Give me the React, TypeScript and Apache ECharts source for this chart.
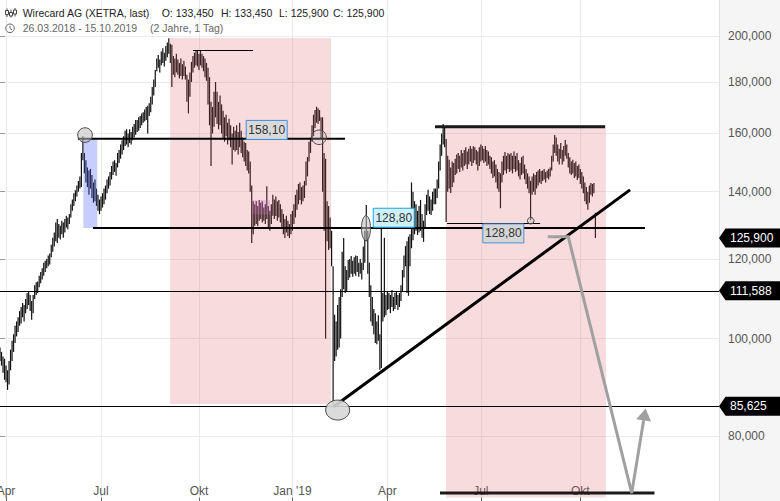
import React, { useEffect, useRef } from 'react';
import * as echarts from 'echarts';

const FONT = '"Liberation Sans", Arial, Helvetica, sans-serif';

// ---- categories (trading days) ----
const START_DATE = '2018-03-26';
const AXIS_DAYS = 478;
const HOLIDAYS = [
  '2018-03-30', '2018-04-02', '2018-05-01', '2018-12-24', '2018-12-25', '2018-12-26', '2018-12-31',
  '2019-01-01', '2019-04-19', '2019-04-22', '2019-05-01', '2019-12-24', '2019-12-25', '2019-12-26',
  '2019-12-31', '2020-01-01',
];
const MONTH_TICKS: [string, string][] = [
  ['2018-04-03', 'Apr'], ['2018-07-02', 'Jul'], ['2018-10-01', 'Okt'], ['2019-01-02', "Jan '19"],
  ['2019-04-01', 'Apr'], ['2019-07-01', 'Jul'], ['2019-10-01', 'Okt'],
];
const Y_TICKS = [80, 100, 120, 140, 160, 180, 200];
const Y_MIN = 69.49;
const Y_MAX = 217.2;

// ---- daily lows / highs (EUR), 26.03.2018 - 15.10.2019 ----
const LOWS = [
  95.0, 94.0, 92.5, 91.0, 90.5, 88.9, 90.0, 93.0, 95.0, 97.0,
  99.0, 100.5, 101.5, 103.0, 103.5, 105.0, 104.0, 106.0, 107.0, 108.0,
  106.5, 104.4, 106.0, 109.5, 110.5, 111.0, 112.5, 113.5, 114.5, 115.5,
  116.5, 117.5, 118.0, 118.5, 120.5, 122.0, 123.5, 125.0, 124.5, 126.0,
  125.5, 127.0, 126.0, 127.5, 129.0, 128.5, 130.0, 132.0, 134.0, 135.5,
  137.0, 138.5, 140.0, 141.0, 141.5, 150.5, 146.0, 143.0, 141.5, 139.0,
  141.0, 138.0, 136.5, 137.0, 135.5, 134.0, 133.0, 134.0, 135.0, 136.0,
  137.5, 139.5, 141.0, 142.0, 144.0, 145.5, 146.5, 145.2, 148.0, 149.5,
  151.0, 152.5, 154.0, 155.5, 156.0, 155.0, 156.5, 156.0, 157.5, 158.5,
  159.5, 160.5, 161.0, 162.0, 163.0, 164.0, 164.5, 165.0, 160.0, 166.5,
  168.0, 171.0, 174.5, 178.0, 184.5, 186.0, 184.0, 187.0, 188.0, 186.5,
  189.0, 190.5, 192.0, 188.0, 178.0, 183.0, 182.0, 184.0, 183.0, 181.5,
  182.5, 181.0, 182.5, 181.0, 172.0, 167.5, 174.0, 180.0, 184.0, 186.0,
  187.0, 186.5, 185.0, 187.0, 186.0, 184.5, 182.0, 180.5, 171.0, 163.0,
  148.5, 160.0, 162.5, 166.0, 163.5, 161.5, 163.0, 160.0, 158.0, 157.0,
  159.0, 156.0, 157.5, 155.0, 149.0, 154.0, 153.5, 154.0, 152.5, 155.0,
  153.0, 151.5, 150.0, 148.5, 147.0, 146.0, 140.0, 124.5, 127.0, 129.5,
  130.0, 129.4, 131.0, 131.5, 130.5, 131.0, 130.0, 131.5, 129.0, 128.0,
  130.0, 132.5, 131.5, 132.4, 131.0, 132.0, 130.5, 129.0, 127.0, 125.9,
  127.5, 126.5, 125.9, 127.0, 128.0, 130.0, 132.0, 134.3, 136.0, 137.4,
  136.0, 137.0, 138.0, 142.0, 145.0, 150.0, 153.0, 157.0, 159.0, 162.0,
  164.0, 163.5, 164.6, 158.0, 140.0, 128.0, 100.0, 125.0, 122.5, 123.0,
  118.0, 86.0, 95.0, 96.0, 97.5, 98.0, 100.0, 110.0, 112.0, 111.0,
  111.5, 114.4, 115.0, 116.0, 115.2, 116.0, 115.5, 116.5, 115.2, 116.0,
  114.5, 117.0, 119.0, 125.0, 116.0, 110.0, 104.0, 103.0, 101.0, 99.0,
  98.7, 99.5, 93.1, 93.5, 104.0, 105.0, 105.5, 106.8, 107.0, 106.0,
  107.5, 106.5, 107.0, 108.0, 106.8, 107.5, 109.0, 111.5, 115.0, 118.0,
  111.0, 110.3, 118.0, 123.0, 125.3, 127.0, 128.0, 126.8, 127.5, 128.0,
  126.0, 124.8, 129.0, 132.7, 134.0, 133.0, 132.7, 134.0, 136.0, 136.0,
  138.0, 141.0, 147.0, 152.0, 156.0, 155.0, 130.6, 140.0, 141.0, 139.6,
  141.5, 143.0, 145.5, 146.0, 147.5, 146.5, 148.0, 147.0, 148.5, 149.0,
  147.5, 149.0, 150.0, 148.5, 149.5, 150.5, 149.0, 147.0, 148.5, 150.0,
  150.5, 149.5, 150.0, 148.5, 149.0, 147.5, 146.0, 144.5, 145.0, 143.0,
  141.0, 140.0, 134.8, 143.0, 145.5, 147.0, 146.0, 147.5, 146.5, 147.0,
  146.0, 147.5, 146.5, 147.0, 145.0, 144.0, 145.5, 146.0, 144.0, 142.5,
  141.0, 139.5, 131.2, 139.0, 140.0, 139.0, 141.0, 142.0, 143.0, 142.5,
  143.5, 144.0, 143.0, 144.5, 144.0, 145.0, 147.0, 150.0, 153.0, 152.0,
  150.0, 149.0, 151.0, 149.0, 150.0, 152.0, 151.0, 148.0, 146.0, 145.5,
  146.0, 144.5, 145.0, 143.8, 144.5, 142.5, 141.0, 139.5, 137.0, 136.0,
  134.3, 136.5, 139.0, 138.5, 139.5, 125.9,
];
const HIGHS = [
  98.0, 97.0, 96.0, 95.5, 94.0, 93.0, 95.0, 97.5, 99.5, 101.0,
  103.0, 104.0, 105.0, 106.5, 107.5, 108.5, 108.0, 109.5, 111.0, 111.5,
  110.5, 109.0, 110.5, 113.0, 113.8, 114.0, 115.5, 116.5, 117.5, 119.0,
  119.5, 120.0, 121.0, 121.5, 124.0, 126.0, 127.5, 130.5, 131.5, 130.0,
  129.5, 131.0, 130.5, 131.5, 132.5, 132.0, 133.0, 136.0, 137.5, 139.5,
  140.5, 142.0, 143.5, 145.0, 153.0, 159.0, 153.0, 150.5, 148.0, 147.0,
  147.5, 145.5, 143.0, 144.0, 141.0, 139.0, 137.5, 138.5, 139.5, 141.0,
  142.0, 144.0, 145.0, 146.5, 148.5, 150.0, 150.5, 149.5, 153.0, 154.0,
  156.0, 157.5, 159.0, 161.0, 161.5, 160.0, 161.5, 160.5, 162.5, 163.5,
  165.0, 165.0, 166.0, 166.5, 167.5, 168.0, 169.0, 170.0, 170.5, 171.5,
  174.0, 178.0, 181.0, 185.0, 190.0, 191.5, 189.5, 193.0, 194.5, 192.5,
  195.5, 197.0, 199.0, 196.5, 196.0, 191.0, 190.0, 192.0, 189.5, 188.0,
  190.0, 187.5, 189.0, 186.5, 183.0, 181.0, 184.0, 188.5, 191.0, 192.5,
  193.5, 193.7, 192.0, 193.5, 192.0, 191.0, 190.0, 188.0, 186.0, 182.0,
  172.0, 170.0, 176.0, 180.0, 176.0, 172.0, 174.5, 171.0, 168.5, 166.0,
  167.0, 164.0, 165.5, 163.0, 160.0, 162.5, 161.0, 163.0, 160.5, 164.0,
  161.0, 158.5, 157.0, 156.5, 154.0, 153.5, 150.0, 142.0, 137.0, 136.0,
  137.0, 135.5, 137.4, 136.5, 137.0, 135.0, 136.0, 141.8, 135.5, 134.0,
  136.0, 139.0, 137.5, 138.5, 137.0, 137.4, 136.0, 134.5, 133.0, 131.5,
  132.5, 131.0, 130.0, 133.0, 134.0, 136.0, 139.0, 140.6, 142.5, 143.0,
  141.5, 142.0, 143.5, 150.0, 151.6, 157.0, 158.5, 163.0, 167.0, 168.8,
  170.1, 169.5, 168.8, 166.0, 166.0, 153.0, 151.0, 137.0, 135.5, 132.0,
  128.0, 118.0, 105.6, 104.0, 108.0, 110.0, 112.0, 122.0, 125.9, 118.0,
  117.0, 119.7, 120.0, 120.8, 119.5, 120.5, 121.0, 120.8, 119.0, 120.0,
  119.0, 123.5, 128.0, 135.8, 128.0, 119.0, 113.0, 110.0, 107.0, 106.0,
  104.0, 105.5, 101.0, 130.4, 111.0, 126.0, 110.5, 111.5, 111.0, 110.5,
  111.8, 110.0, 111.0, 111.5, 110.5, 111.0, 113.0, 117.0, 121.0, 123.6,
  125.0, 126.3, 127.0, 143.0, 140.0, 137.0, 136.0, 134.0, 135.5, 137.4,
  133.0, 131.0, 136.0, 139.0, 140.6, 138.5, 137.5, 140.0, 141.0, 141.0,
  144.0, 150.0, 156.0, 160.0, 163.5, 162.5, 158.0, 152.0, 150.6, 148.0,
  150.0, 149.5, 151.0, 152.5, 153.0, 152.0, 154.0, 153.0, 154.0, 155.0,
  153.5, 154.5, 155.5, 154.5, 155.4, 155.0, 154.0, 153.5, 155.0, 156.0,
  155.5, 154.5, 155.5, 154.0, 153.5, 152.0, 151.5, 150.0, 150.5, 149.0,
  147.5, 146.5, 146.0, 150.0, 152.0, 153.3, 152.0, 153.0, 152.5, 153.0,
  152.0, 153.5, 152.0, 153.0, 150.5, 149.5, 151.5, 152.0, 149.0, 147.5,
  146.0, 145.0, 143.5, 145.0, 146.0, 145.5, 146.5, 147.0, 147.5, 146.8,
  147.0, 147.5, 146.5, 147.0, 147.5, 148.0, 152.0, 156.0, 159.4, 158.5,
  156.0, 154.5, 156.5, 154.0, 155.5, 157.6, 156.0, 153.0, 151.5, 150.0,
  150.6, 149.5, 150.0, 148.5, 149.0, 147.5, 146.5, 145.0, 143.0, 141.5,
  140.0, 142.0, 142.8, 142.5, 142.8, 133.45,
];
const LAST_BAR = { open: 133.45, high: 133.45, low: 125.9, close: 125.9 };
const PRICE_TAGS = [125.9, 111.588, 85.625];

// ---- drawn annotations, in data coordinates [day index, price] ----
const PINK_ZONES = [
  { x0: 112.8, x1: 219.6, lo: 86.1, hi: 199.1 },
  { x0: 295.9, x1: 402.0, lo: Y_MIN, hi: 163.1 },
];
const BLUE_ZONE = { x0: 55.3, x1: 64.5, lo: 128.8, hi: 158.1 };
const PURPLE_SPOT = { x0: 167.0, x1: 179.2, lo: 132.9, hi: 137.4 };
const LEVEL_LINES = [
  { price: 158.1, x0: 51.7, x1: 228.9, kind: 'thick' },
  { price: 128.8, x0: 61.7, x1: 427.9, kind: 'thick' },
  { price: 162.5, x0: 288.6, x1: 401.4, kind: 'heavy' },
  { price: 193.7, x0: 128.0, x1: 167.9, kind: 'thin' },
  { price: 130.4, x0: 296.6, x1: 358.3, kind: 'thin' },
  { price: 111.588, x0: 0, x1: 477, kind: 'thin' },
  { price: 85.625, x0: 0, x1: 477, kind: 'thin' },
  { price: 70.2, x0: 291.9, x1: 434.2, kind: 'heavy' },
];
const TREND_LINE = [[221.1, 85.5], [418.0, 140.6]];
const PROJECTION = [[363.4, 126.3], [377.0, 126.3], [419.1, 70.2], [428.3, 85.2]];
const CIRCLES = [
  { at: [56.4, 159.4], rx: 7.3, ry: 7.3, fill: 'rgba(190,190,190,0.55)' },
  { at: [211.6, 158.6], rx: 7.3, ry: 7.3, fill: 'rgba(190,190,190,0.25)' },
  { at: [242.8, 128.8], rx: 4.5, ry: 12.5, fill: 'rgba(190,190,190,0.55)' },
  { at: [224.0, 84.9], rx: 12, ry: 10, fill: 'rgba(215,215,215,0.9)' },
  { at: [352.1, 131.0], rx: 3.3, ry: 3.3, fill: 'rgba(190,190,190,0.4)' },
];
const VALUE_BOXES = [
  { text: '158,10', at: [163.0, 158.0], anchor: 'bottom', fill: '#d9d9d9', stroke: '#3d8ee0' },
  { text: '128,80', at: [247.3, 129.2], anchor: 'bottom', fill: '#cdf0fb', stroke: '#1ea3e4' },
  { text: '128,80', at: [320.0, 130.2], anchor: 'top', fill: '#d6d6d6', stroke: '#4d93d8' },
];

function tradingDays(start: string, count: number, holidays: string[]) {
  const out: string[] = [];
  const d = new Date(start + 'T00:00:00Z');
  while (out.length < count) {
    const wd = d.getUTCDay();
    const s = d.toISOString().slice(0, 10);
    if (wd !== 0 && wd !== 6 && holidays.indexOf(s) < 0) out.push(s);
    d.setUTCDate(d.getUTCDate() + 1);
  }
  return out;
}

const fmt3 = (v: number) => v.toFixed(3).replace('.', ',');

export default function App() {
  const ref = useRef<HTMLDivElement>(null);

  useEffect(() => {
    document.body.style.margin = '0';
    const days = tradingDays(START_DATE, AXIS_DAYS, HOLIDAYS);
    const tickIdx = MONTH_TICKS.map(([d]) => days.indexOf(d));
    const tickLabel: Record<number, string> = {};
    MONTH_TICKS.forEach(([d, l]) => { tickLabel[days.indexOf(d)] = l; });

    const chart = echarts.init(ref.current as HTMLDivElement, null, { renderer: 'svg' });
    const data = LOWS.map((lo, i) => [i, lo, HIGHS[i]]);

    chart.setOption({
      animation: false,
      grid: { left: 0, right: 61, top: 0, bottom: 3.5, containLabel: false, outerBoundsMode: 'none' },
      xAxis: {
        type: 'value', min: 0, max: AXIS_DAYS - 1,
        axisLine: { show: false },
        axisTick: { show: true, customValues: tickIdx, length: 4, lineStyle: { color: '#666' } },
        axisLabel: {
          customValues: tickIdx, inside: true, margin: 1, color: '#555', fontSize: 12, fontFamily: FONT,
          formatter: (v: number) => tickLabel[Math.round(v)] || '',
        },
        splitLine: { show: true, lineStyle: { color: '#ebebeb', width: 1 } },
      },
      yAxis: {
        type: 'log', position: 'right', min: Y_MIN, max: Y_MAX,
        axisLine: { show: false },
        axisTick: { show: true, customValues: Y_TICKS, length: 5, lineStyle: { color: '#999' } },
        axisLabel: {
          customValues: Y_TICKS, margin: 9, color: '#555', fontSize: 12, fontFamily: FONT,
          formatter: (v: number) => fmt3(v),
        },
        splitLine: { show: true, lineStyle: { color: '#ebebeb', width: 1 } },
      },
      series: [{
        type: 'custom',
        data,
        encode: { x: 0, y: [1, 2] },
        z: 2,
        renderItem: (params: any, api: any) => {
          const x = api.value(0);
          const p1 = api.coord([x, api.value(1)]);
          const p2 = api.coord([x, api.value(2)]);
          return {
            type: 'line',
            shape: { x1: p1[0], y1: p1[1], x2: p2[0], y2: p2[1] },
            style: { stroke: '#111', lineWidth: 1.2 },
          };
        },
      }],
    });

    const P = (x: number, y: number) => chart.convertToPixel({ gridIndex: 0 }, [x, y]) as number[];
    const PY = (y: number) => chart.convertToPixel({ yAxisIndex: 0 }, y) as number;
    const g: any[] = [];

    // right axis panel
    g.push({ type: 'rect', z: -10, shape: { x: 719, y: 0, width: 61, height: 501 }, style: { fill: '#f5f5f5' } });
    g.push({ type: 'line', z: -9, shape: { x1: 719.5, y1: 0, x2: 719.5, y2: 501 }, style: { stroke: '#e0e0e0', lineWidth: 1 } });

    const zoneRect = (zn: any, fill: string, z: number) => {
      const a = P(zn.x0, zn.hi);
      const b = P(zn.x1, zn.lo);
      g.push({ type: 'rect', z, shape: { x: a[0], y: a[1], width: b[0] - a[0], height: b[1] - a[1] }, style: { fill } });
    };
    PINK_ZONES.forEach((zn) => zoneRect(zn, 'rgba(225,90,100,0.22)', 5));
    zoneRect(BLUE_ZONE, 'rgba(80,100,250,0.32)', 5);
    zoneRect(PURPLE_SPOT, 'rgba(200,110,200,0.28)', 5);

    LEVEL_LINES.forEach((l) => {
      const a = P(l.x0, l.price);
      const b = P(l.x1, l.price);
      const w = l.kind === 'thin' ? 1 : l.kind === 'thick' ? 2 : 3;
      const yy = l.kind === 'thin' ? Math.round(a[1]) + 0.5 : a[1];
      g.push({ type: 'line', z: 6, shape: { x1: a[0], y1: yy, x2: b[0], y2: yy }, style: { stroke: l.kind === 'heavy' ? '#1a1a1a' : '#000', lineWidth: w } });
    });

    const t0 = P(TREND_LINE[0][0], TREND_LINE[0][1]);
    const t1 = P(TREND_LINE[1][0], TREND_LINE[1][1]);
    g.push({ type: 'line', z: 6, shape: { x1: t0[0], y1: t0[1], x2: t1[0], y2: t1[1] }, style: { stroke: '#000', lineWidth: 3 } });

    const proj = PROJECTION.map((p) => P(p[0], p[1]));
    const tip = proj[proj.length - 1];
    const prev = proj[proj.length - 2];
    const dx = tip[0] - prev[0];
    const dy = tip[1] - prev[1];
    const len = Math.sqrt(dx * dx + dy * dy);
    const ux = dx / len, uy = dy / len;
    const nx = -uy, ny = ux;
    const headLen = 12, headW = 7.5;
    const base = [tip[0] - ux * headLen, tip[1] - uy * headLen];
    const shaft = proj.slice(0, -1).concat([[base[0], base[1]]]);
    g.push({ type: 'polyline', z: 6, shape: { points: shaft }, style: { stroke: '#a0a0a0', lineWidth: 3, fill: null, lineJoin: 'miter' } });
    g.push({
      type: 'polygon', z: 6,
      shape: { points: [[tip[0], tip[1]], [base[0] + nx * headW, base[1] + ny * headW], [base[0] - nx * headW, base[1] - ny * headW]] },
      style: { fill: '#a0a0a0' },
    });

    CIRCLES.forEach((c) => {
      const p = P(c.at[0], c.at[1]);
      g.push({ type: 'ellipse', z: 7, shape: { cx: p[0], cy: p[1], rx: c.rx, ry: c.ry }, style: { fill: c.fill, stroke: '#4a4a4a', lineWidth: 1 } });
    });

    VALUE_BOXES.forEach((b) => {
      const p = P(b.at[0], b.at[1]);
      const w = 41, h = 19;
      const y = b.anchor === 'bottom' ? p[1] - h : p[1];
      g.push({ type: 'rect', z: 8, shape: { x: p[0] + 0.5, y: y + 0.5, width: w, height: h }, style: { fill: b.fill, stroke: b.stroke, lineWidth: 1 } });
      g.push({
        type: 'text', z: 9, x: p[0] + 0.5 + w / 2, y: y + 0.5 + h / 2,
        style: { text: b.text, fill: '#333', fontSize: 12, fontFamily: FONT, align: 'center', verticalAlign: 'middle', textAlign: 'center', textVerticalAlign: 'middle' },
      });
    });

    PRICE_TAGS.forEach((v) => {
      const cy = PY(v);
      g.push({
        type: 'polygon', z: 8,
        shape: { points: [[719, cy], [725.5, cy - 9.5], [780, cy - 9.5], [780, cy + 9.5], [725.5, cy + 9.5]] },
        style: { fill: '#000' },
      });
      g.push({
        type: 'text', z: 9, x: 730, y: cy,
        style: { text: fmt3(v), fill: '#fff', fontSize: 12, fontFamily: FONT, align: 'left', verticalAlign: 'middle', textAlign: 'left', textVerticalAlign: 'middle' },
      });
    });

    // header
    const HF = 10.5;
    const hdr = (text: string, x: number, y: number, fill: string) => g.push({
      type: 'text', z: 20, x, y,
      style: { text, fill, fontSize: HF, fontFamily: FONT, align: 'left', verticalAlign: 'middle', textAlign: 'left', textVerticalAlign: 'middle' },
    });
    hdr('Wirecard AG (XETRA, last)', 22.7, 12.7, '#222');
    hdr('O: ' + fmt3(LAST_BAR.open), 161.7, 12.7, '#222');
    hdr('H: ' + fmt3(LAST_BAR.high), 221, 12.7, '#222');
    hdr('L: ' + fmt3(LAST_BAR.low), 279, 12.7, '#222');
    hdr('C: ' + fmt3(LAST_BAR.close), 333, 12.7, '#222');
    hdr(days[0].split('-').reverse().join('.') + ' - ' + days[LOWS.length - 1].split('-').reverse().join('.'), 22.7, 28.3, '#666');
    hdr('(2 Jahre, 1 Tag)', 150, 28.3, '#666');

    // header icons
    [[7, 8.5, 17, 10.5, 4], [11, 9.5, 17.5, 12.5, 3.5], [15, 8, 16.5, 10, 4]].forEach(([x, y1, y2, by, bh]) => {
      g.push({ type: 'line', z: 20, shape: { x1: x, y1, x2: x, y2 }, style: { stroke: '#444', lineWidth: 1 } });
      g.push({ type: 'rect', z: 20, shape: { x: x - 1.5, y: by, width: 3, height: bh }, style: { fill: '#fff', stroke: '#444', lineWidth: 1 } });
    });
    g.push({ type: 'circle', z: 20, shape: { cx: 10, cy: 28.3, r: 4.3 }, style: { fill: 'none', stroke: '#666', lineWidth: 1 } });
    g.push({ type: 'polyline', z: 20, shape: { points: [[10, 25.8], [10, 28.5], [12, 29.8]] }, style: { fill: null, stroke: '#666', lineWidth: 1 } });

    chart.setOption({ graphic: { elements: g } });

    return () => chart.dispose();
  }, []);

  return <div ref={ref} style={{ width: 780, height: 501 }} />;
}
